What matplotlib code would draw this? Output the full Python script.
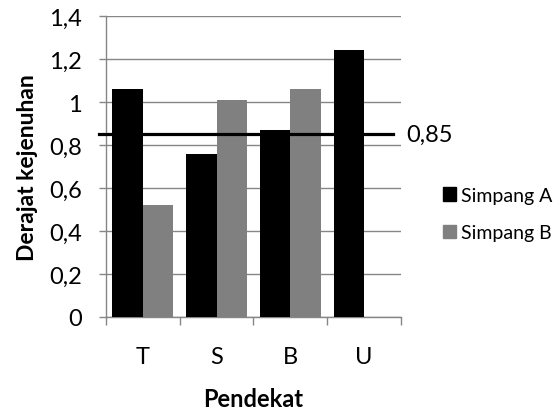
import matplotlib.pyplot as plt
from matplotlib.patches import Patch

plt.rcParams['font.family'] = ['Lato', 'DejaVu Sans']

# Data
pendekat = ["T", "S", "B", "U"]
simpang_a = [1.06, 0.76, 0.87, 1.24]
simpang_b = [0.52, 1.01, 1.06, 0.0]
batas = 0.85

grey_axis = "#868686"
fig = plt.figure(figsize=(5.6, 4.1), dpi=100)
ax = fig.add_axes([0.189, 0.2244, 0.527, 0.7341])

x = list(range(len(pendekat)))
w = 0.41
ax.bar([i - w / 2 for i in x], simpang_a, width=w, color="black", zorder=3,
       label="Simpang A")
ax.bar([i + w / 2 for i in x], simpang_b, width=w, color="#808080", zorder=3,
       label="Simpang B")

# threshold line
ax.plot([-0.595, 3.39], [batas, batas], color="black", lw=2.3, zorder=4,
        clip_on=False)
ax.text(3.57, batas, f"{batas:g}".replace(".", ","), fontsize=17,
        va="center", ha="left")

ax.set_xlim(-0.5, 3.5)
ax.set_ylim(0, 1.4)
yt = [0, 0.2, 0.4, 0.6, 0.8, 1.0, 1.2, 1.4]
ax.set_yticks(yt)
ax.set_yticklabels([f"{v:g}".replace(".", ",") for v in yt], fontsize=17)
ax.set_xticks([-0.5, 0.5, 1.5, 2.5, 3.5])
ax.set_xticklabels([])
ax.set_xticks(x, minor=True)
ax.set_xticklabels(pendekat, minor=True, fontsize=17)
ax.tick_params(axis="x", which="minor", length=0, pad=21)
ax.tick_params(axis="x", which="major", length=6, color=grey_axis, width=1)
ax.tick_params(axis="y", length=5, color=grey_axis, width=1, pad=12)
ax.grid(axis="y", color=grey_axis, lw=1, zorder=0)
for s in ["top", "right"]:
    ax.spines[s].set_visible(False)
for s in ["left", "bottom"]:
    ax.spines[s].set_color(grey_axis)
    ax.spines[s].set_linewidth(1)

ax.set_ylabel("Derajat kejenuhan", fontsize=16.5, fontweight="bold",
              labelpad=8)
ax.set_xlabel("Pendekat", fontsize=17, fontweight="bold", labelpad=14)

handles = [Patch(color="black"), Patch(color="#808080")]
fig.legend(handles, ["Simpang A", "Simpang B"], loc="center left",
           bbox_to_anchor=(0.791, 0.4756), frameon=False, fontsize=14,
           handlelength=0.67, handleheight=0.67, handletextpad=0.26,
           labelspacing=1.05, borderaxespad=0, borderpad=0)

fig.savefig("out.png", dpi=100)
